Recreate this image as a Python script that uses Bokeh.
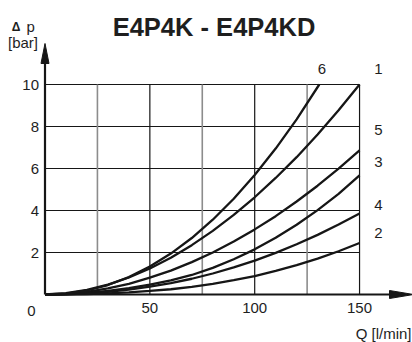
from bokeh.plotting import figure
from bokeh.models import Range1d, FixedTicker, Label
from bokeh.embed import file_html
from bokeh.resources import INLINE

# ---- data ----
Q = [0, 10, 20, 30, 40, 50, 60, 70, 80, 90, 100, 110, 120, 130, 140, 150]
dp_1 = [0, 0.06, 0.22, 0.47, 0.81, 1.24, 1.75, 2.35, 3.03, 3.79, 4.63, 5.55, 6.54, 7.62, 8.77, 10.0]
dp_5 = [0, 0.034, 0.13, 0.29, 0.51, 0.80, 1.14, 1.54, 2.00, 2.52, 3.10, 3.73, 4.43, 5.18, 5.99, 6.86]
dp_3 = [0, 0.02, 0.08, 0.17, 0.30, 0.47, 0.67, 0.93, 1.27, 1.68, 2.15, 2.70, 3.32, 4.02, 4.79, 5.67]
dp_4 = [0, 0.01, 0.05, 0.12, 0.23, 0.38, 0.54, 0.75, 1.00, 1.29, 1.61, 1.98, 2.39, 2.84, 3.33, 3.86]
dp_2 = [0, 0.005, 0.02, 0.05, 0.10, 0.17, 0.25, 0.36, 0.51, 0.68, 0.87, 1.13, 1.40, 1.71, 2.06, 2.45]
Q_6 = [0, 10, 20, 30, 40, 50, 60, 70, 80, 90, 100, 110, 120, 130.8]
dp_6 = [0, 0.045, 0.19, 0.45, 0.83, 1.33, 1.95, 2.69, 3.56, 4.56, 5.69, 6.95, 8.34, 10.0]

x_ticks = [50, 100, 150]
y_ticks = [2, 4, 6, 8, 10]
grid_x_major = [50, 100, 150]
grid_x_minor = [25, 75, 125]
grid_y = [2, 4, 6, 8, 10]

series_names = ["1", "5", "3", "4", "2"]
series_values = [dp_1, dp_5, dp_3, dp_4, dp_2]

# ---- layout (page pixels: x0 at 44.5, y0 at 294) ----
KX = 2.097   # px per l/min
KY = 21.0    # px per bar
OX, OY = 44.5, 294.0
W, H = 412, 342
X0 = -OX / KX
X1 = X0 + W / KX
Y0 = (OY - H) / KY
Y1 = OY / KY

INK = "#161616"
TXT = "#1e1e1e"
FONT = "Liberation Sans"

p = figure(width=W, height=H, output_backend="svg", toolbar_location=None,
           x_range=Range1d(X0, X1), y_range=Range1d(Y0, Y1),
           min_border_left=0, min_border_right=0, min_border_top=0,
           min_border_bottom=0)
p.outline_line_color = None
p.xgrid.visible = False
p.ygrid.visible = False
p.background_fill_color = "white"
p.border_fill_color = "white"

for ax in (p.xaxis[0], p.yaxis[0]):
    ax.fixed_location = 0
    ax.axis_line_color = None
    ax.major_tick_line_color = None
    ax.minor_tick_line_color = None
    ax.major_tick_out = 0
    ax.major_tick_in = 0
    ax.minor_tick_out = 0
    ax.minor_tick_in = 0
    ax.major_label_text_font = FONT
    ax.major_label_text_font_size = "15px"
    ax.major_label_text_color = TXT
p.xaxis[0].ticker = FixedTicker(ticks=x_ticks)
p.yaxis[0].ticker = FixedTicker(ticks=y_ticks)
p.xaxis[0].major_label_standoff = 8
p.yaxis[0].major_label_standoff = 6

xmax = max(Q)
ymax = max(y_ticks)

# grid
p.segment(x0=[0] * len(grid_y), y0=grid_y, x1=[xmax] * len(grid_y), y1=grid_y,
          line_color=INK, line_width=1.2)
p.segment(x0=grid_x_minor, y0=[0] * 3, x1=grid_x_minor, y1=[ymax] * 3,
          line_color="#8c8c8c", line_width=1.6)
p.segment(x0=grid_x_major, y0=[0] * 3, x1=grid_x_major, y1=[ymax] * 3,
          line_color=INK, line_width=1.2)

# curves
for vals in series_values:
    p.line(Q, vals, line_color=INK, line_width=2.3)
p.line(Q_6, dp_6, line_color=INK, line_width=2.3)


def px_x(px):
    return (px - OX) / KX


def px_y(py):
    return (OY - py) / KY


# axes with arrows
y_tip, y_base = px_y(43), px_y(63)
x_tip, x_base = px_x(413), px_x(389)
p.segment(x0=[0, 0], y0=[0, 0], x1=[0, x_base], y1=[y_base, 0],
          line_color=INK, line_width=2.2)
hw = 4 / KX
hh = 4 / KY
p.patch([0, -hw, hw], [y_tip, y_base, y_base], fill_color=INK, line_color=INK, line_width=1)
p.patch([x_tip, x_base, x_base], [0, hh, -hh], fill_color=INK, line_color=INK, line_width=1)


def lab(x, y, text, size="15px", style="normal", align="center", baseline="middle"):
    p.add_layout(Label(x=x, y=y, text=text, text_font=FONT, text_font_size=size,
                       text_font_style=style, text_color=TXT, text_align=align,
                       text_baseline=baseline))


# curve labels
lab_y = {"1": 68, "5": 129, "3": 161, "4": 204, "2": 232}
for name in series_names:
    lab(px_x(378), px_y(lab_y[name]), name)
lab(px_x(321.5), px_y(68), "6")

# origin label
lab(px_x(31), px_y(310), "0")

# title and axis titles
lab(px_x(213.5), px_y(26), "E4P4K - E4P4KD", size="25.5px", style="bold", baseline="alphabetic")
lab(px_x(15.5), px_y(26), "\u0394", size="12px", style="bold", baseline="alphabetic")
lab(px_x(26), px_y(26), "p", size="15px", align="left", baseline="alphabetic")
lab(px_x(22.5), px_y(42), "[bar]", size="15px", baseline="alphabetic")
lab(px_x(411), px_y(333), "Q [l/min]", size="15px", align="right", baseline="alphabetic")

open("out.html", "w").write(file_html(p, INLINE))
